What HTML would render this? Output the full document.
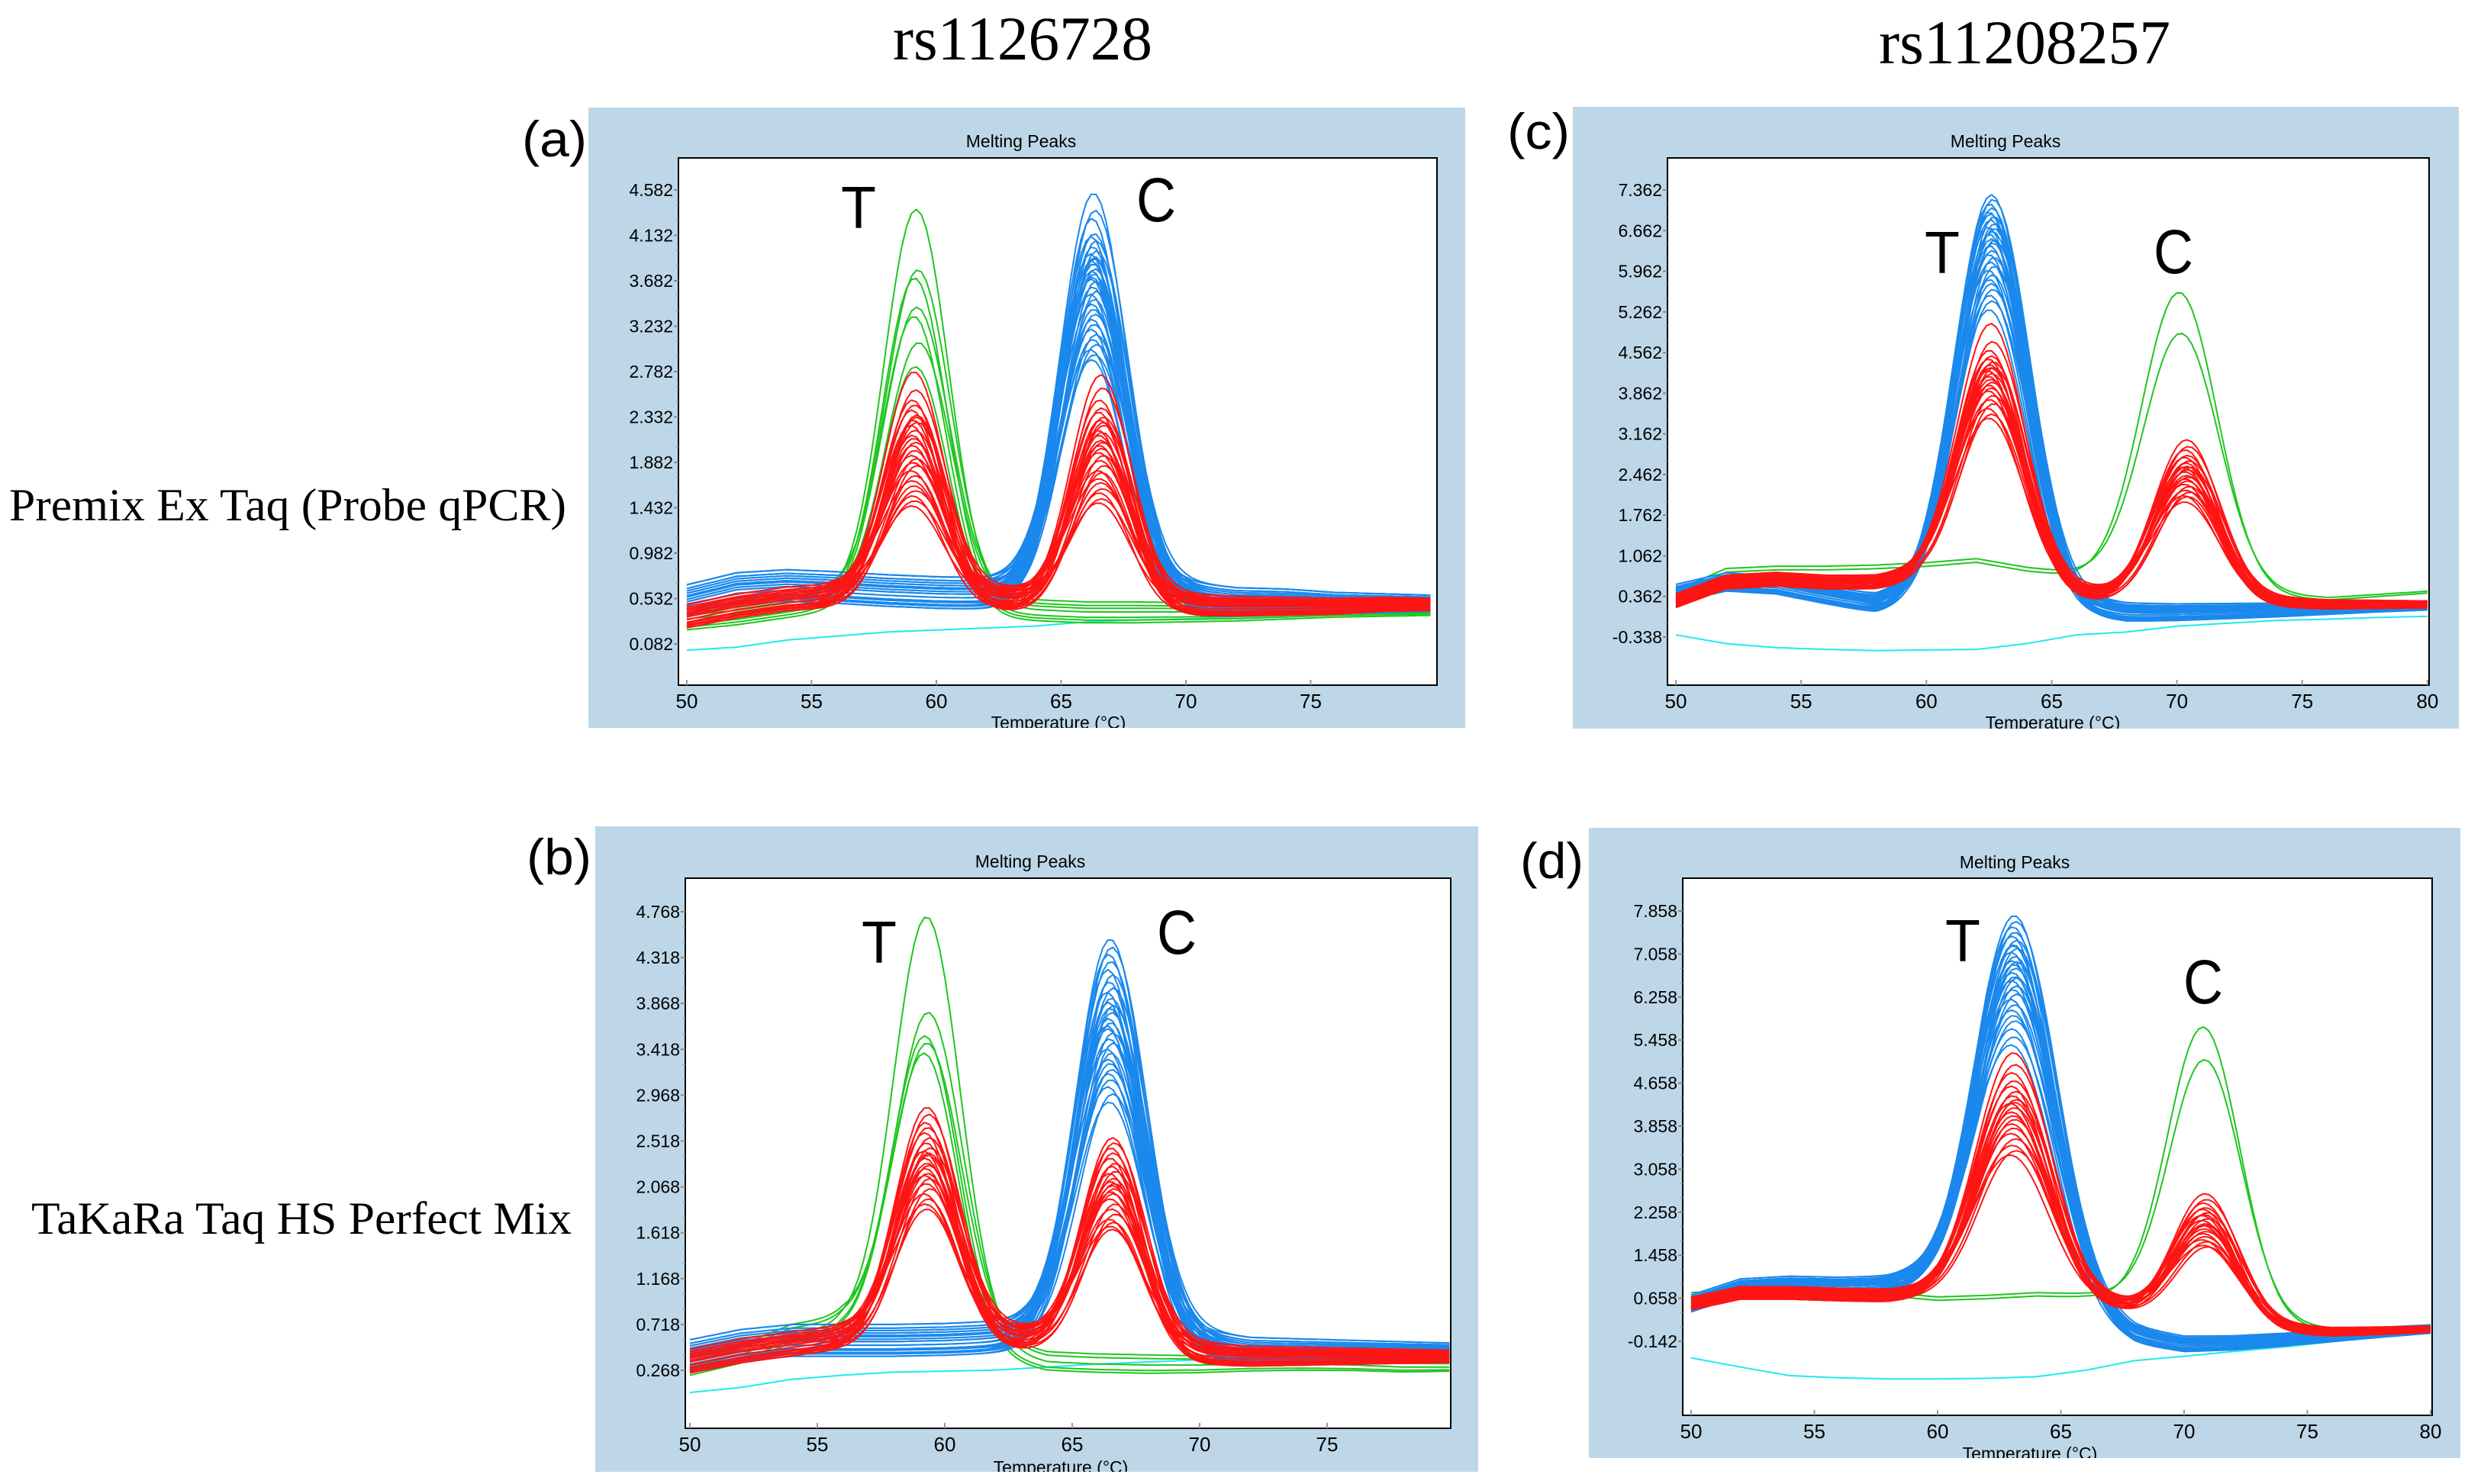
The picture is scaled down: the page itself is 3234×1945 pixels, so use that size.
<!DOCTYPE html>
<html><head><meta charset="utf-8"><style>
html,body{margin:0;padding:0;background:#fff;}
svg{display:block;}
</style></head><body>
<svg id="fig" xmlns="http://www.w3.org/2000/svg" width="3234" height="1945" viewBox="0 0 3234 1945">
<rect width="3234" height="1945" fill="#fff"/>
<text x="1340" y="78" font-family="Liberation Serif, serif" font-size="82" text-anchor="middle" textLength="340" lengthAdjust="spacingAndGlyphs">rs1126728</text>
<text x="2653" y="83" font-family="Liberation Serif, serif" font-size="82" text-anchor="middle" textLength="382" lengthAdjust="spacingAndGlyphs">rs11208257</text>
<text x="12" y="682" font-family="Liberation Serif, serif" font-size="60" textLength="730" lengthAdjust="spacingAndGlyphs">Premix Ex Taq (Probe qPCR)</text>
<text x="41" y="1617" font-family="Liberation Serif, serif" font-size="60" textLength="708" lengthAdjust="spacingAndGlyphs">TaKaRa Taq HS Perfect Mix</text>
<g id="panels"></g>
</svg>
<script>
// common baseline knot temperatures
const baseT = [50,52,54,56,58,60,62,64,66,68,70,72,74,76,78,80];
// small per-curve variation values
const jitY = [0,0.07,-0.06,0.11,-0.09,0.04,-0.12,0.14,-0.03,0.09,-0.1,0.05,0.02,-0.07];
const jitX = [0,0.12,-0.1,0.05,-0.15,0.18,-0.05,0.22,-0.2,0.08,-0.12];

// ---- panel (a)
const aTicksY = ["4.582","4.132","3.682","3.232","2.782","2.332","1.882","1.432","0.982","0.532","0.082"];
const aTicksX = [50,55,60,65,70,75];
const aGreenPeaks = [4.39,3.79,3.71,3.42,3.33,3.07,2.83];
const aGreenBase = [0.33,0.38,0.45,0.52,0.55,0.5,0.45,0.42,0.4,0.4,0.4,0.4,0.41,0.42,0.42,0.42];
const aRedPeaksT = [2.78,2.6,2.5,2.45,2.4,2.35,2.3,2.28,2.25,2.2,2.15,2.12,2.08,2.05,2.0,1.95,1.92,1.88,1.85,1.8,1.75,1.7,1.65,1.6,1.55,1.5,1.45,2.33];
const aRedPeaksC = [2.75,2.62,2.5,2.42,2.38,2.33,2.3,2.25,2.2,2.18,2.15,2.1,2.08,2.05,2.02,1.98,1.95,1.9,1.85,1.8,1.78,1.72,1.68,1.62,1.58,1.52,1.48,2.28];
const aRedBase = [0.35,0.45,0.52,0.55,0.55,0.55,0.52,0.5,0.5,0.48,0.46,0.45,0.45,0.45,0.47,0.47];
const aBluePeaks = [4.55,4.38,4.3,4.15,4.12,4.08,4.02,3.98,3.95,3.9,3.88,3.85,3.8,3.78,3.75,3.7,3.68,3.62,3.58,3.55,3.5,3.45,3.4,3.35,3.3,3.25,3.2,3.15,3.1,3.05,3.0,2.95,2.9,3.85,3.92,3.72];
const aBlueBase = [0.5,0.62,0.65,0.63,0.6,0.58,0.57,0.58,0.58,0.56,0.54,0.5,0.5,0.48,0.48,0.48];
const aCyan = [0.02,0.05,0.12,0.16,0.2,0.22,0.24,0.26,0.3,0.32,0.33,0.35,0.36,0.37,0.38,0.4];

// ---- panel (b)
const bTicksY = ["4.768","4.318","3.868","3.418","2.968","2.518","2.068","1.618","1.168","0.718","0.268"];
const bTicksX = [50,55,60,65,70,75];
const bGreenPeaks = [4.72,3.78,3.55,3.48,3.38];
const bGreenBase = [0.3,0.42,0.62,0.7,0.65,0.55,0.45,0.35,0.33,0.32,0.32,0.33,0.33,0.32,0.3,0.3];
const bRedPeaksT = [2.85,2.78,2.7,2.65,2.6,2.55,2.5,2.45,2.42,2.38,2.35,2.3,2.28,2.25,2.2,2.18,2.15,2.1,2.05,2.0,1.95,1.9,1.85,2.4];
const bRedPeaksC = [2.55,2.5,2.45,2.4,2.35,2.3,2.27,2.22,2.2,2.15,2.12,2.08,2.05,2.02,2.0,1.95,1.9,1.85,1.8,1.75,1.72,1.68,1.65,2.1];
const bRedBase = [0.35,0.45,0.52,0.58,0.6,0.6,0.58,0.55,0.5,0.45,0.42,0.4,0.4,0.4,0.4,0.4];
const bBluePeaks = [4.5,4.42,4.35,4.28,4.2,4.15,4.08,4.02,3.98,3.92,3.88,3.82,3.78,3.72,3.68,3.62,3.58,3.52,3.48,3.42,3.38,3.32,3.28,3.22,3.18,3.12,3.05,2.98,2.9,3.85,3.65];
const bBlueBase = [0.4,0.5,0.55,0.55,0.55,0.56,0.58,0.6,0.6,0.55,0.5,0.45,0.45,0.45,0.45,0.45];
const bCyan = [0.05,0.1,0.18,0.22,0.25,0.26,0.27,0.3,0.33,0.35,0.37,0.38,0.4,0.4,0.4,0.4];

// ---- panel (c)
const cTicksY = ["7.362","6.662","5.962","5.262","4.562","3.862","3.162","2.462","1.762","1.062","0.362","-0.338"];
const cTicksX = [50,55,60,65,70,75,80];
const cBluePeaks = [7.28,7.2,7.12,7.05,6.98,6.9,6.85,6.78,6.72,6.65,6.6,6.52,6.45,6.4,6.32,6.25,6.2,6.12,6.05,5.98,5.9,5.82,5.75,5.65,5.55,5.45,5.3,6.7,6.95,6.5];
const cBlueBase = [0.4,0.6,0.55,0.38,0.22,0.3,0.35,0.3,0.15,0.08,0.08,0.1,0.12,0.15,0.18,0.2];
const cRedPeaksT = [5.06,4.75,4.6,4.5,4.45,4.4,4.35,4.3,4.25,4.2,4.15,4.1,4.05,4.0,3.95,3.9,3.82,3.75,3.68,3.6,3.5,3.43,4.3];
const cRedPeaksC = [3.06,2.95,2.88,2.8,2.75,2.7,2.65,2.6,2.58,2.55,2.5,2.45,2.42,2.38,2.35,2.3,2.25,2.2,2.15,2.1,2.07,2.0,2.6];
const cRedBase = [0.28,0.6,0.65,0.6,0.6,0.7,0.6,0.45,0.38,0.35,0.32,0.28,0.25,0.22,0.22,0.22];
const cGreenPeaks = [5.6,4.9];
const cGreenBase = [0.4,0.78,0.82,0.82,0.84,0.88,0.95,0.8,0.7,0.6,0.5,0.42,0.35,0.3,0.36,0.42];
const cCyan = [-0.3,-0.45,-0.52,-0.55,-0.57,-0.56,-0.55,-0.45,-0.3,-0.25,-0.15,-0.1,-0.05,-0.03,0.0,0.02];

// ---- panel (d)
const dTicksY = ["7.858","7.058","6.258","5.458","4.658","3.858","3.058","2.258","1.458","0.658","-0.142"];
const dTicksX = [50,55,60,65,70,75,80];
const dBluePeaks = [7.76,7.65,7.55,7.45,7.38,7.3,7.22,7.15,7.08,7.0,6.92,6.85,6.78,6.7,6.62,6.55,6.45,6.38,6.3,6.2,6.1,6.0,5.9,5.8,5.65,5.5,5.35,6.9,7.2,6.6];
const dBlueBase = [0.55,0.85,0.9,0.88,0.9,1.0,1.1,0.6,0.3,-0.05,-0.2,-0.18,-0.12,-0.05,0.02,0.08];
const dRedPeaksT = [5.22,5.0,4.85,4.7,4.6,4.5,4.42,4.35,4.28,4.2,4.12,4.05,3.98,3.9,3.82,3.72,3.62,3.5,3.4,3.32,4.3];
const dRedPeaksC = [2.6,2.5,2.42,2.35,2.3,2.25,2.2,2.15,2.1,2.05,2.0,1.95,1.9,1.85,1.8,1.75,1.7,1.65,1.6,2.2,2.0];
const dRedBase = [0.55,0.75,0.75,0.72,0.7,0.75,0.8,0.7,0.55,0.45,0.35,0.2,0.08,0.03,0.05,0.08];
const dGreenPeaks = [5.7,5.1];
const dGreenBase = [0.7,0.75,0.75,0.72,0.7,0.62,0.65,0.7,0.68,0.6,0.5,0.3,0.12,0.05,0.06,0.08];
const dCyan = [-0.45,-0.62,-0.78,-0.82,-0.84,-0.84,-0.83,-0.8,-0.68,-0.5,-0.42,-0.33,-0.25,-0.15,-0.05,0.04];

const COL = {green:"#1fc61f", red:"#ff1414", blue:"#1a88ec", cyan:"#1fe8f0"};

// layout (pixel geometry, not data)
const layout = {
 a:{box:[771,141,1920,954], plot:[889,207,1883,898], x0:900, xdeg:32.7, yTop:249, yBot:844, tMin:50, tMax:79.8, label:"(a)", lab:[684,205,85],
    title:[1338,193], xl:[1387,955], T:[1125,299], C:[1515,290]},
 b:{box:[780,1083,1937,1929], plot:[898,1151,1901,1872], x0:904, xdeg:33.4, yTop:1195, yBot:1796, tMin:50, tMax:79.8, label:"(b)", lab:[690,1146,85],
    title:[1350,1137], xl:[1390,1931], T:[1152,1262], C:[1542,1250]},
 c:{box:[2061,140,3222,955], plot:[2185,207,3183,898], x0:2196, xdeg:32.83, yTop:249, yBot:835, tMin:50, tMax:80, label:"(c)", lab:[1975,195,82],
    title:[2628,193], xl:[2690,955], T:[2545,358], C:[2848,358]},
 d:{box:[2082,1085,3224,1911], plot:[2205,1151,3187,1855], x0:2216, xdeg:32.3, yTop:1194, yBot:1758, tMin:50, tMax:80, label:"(d)", lab:[1992,1151,83],
    title:[2640,1138], xl:[2660,1913], T:[2572,1260], C:[2887,1315]}
};

const panelData = {
 a:{ticksY:aTicksY, ticksX:aTicksX, groups:[
   {name:"cyan", color:"cyan", base:aCyan, peaks:[], single:true},
   {name:"green", color:"green", base:aGreenBase, peaks:[{h:aGreenPeaks, c:59.2, s:1.28}]},
   {name:"blue", color:"blue", base:aBlueBase, peaks:[{h:aBluePeaks, c:66.3, s:1.32}]},
   {name:"red", color:"red", base:aRedBase, peaks:[{h:aRedPeaksT, c:59.1, s:1.2},{h:aRedPeaksC, c:66.6, s:1.2}]}]},
 b:{ticksY:bTicksY, ticksX:bTicksX, groups:[
   {name:"cyan", color:"cyan", base:bCyan, peaks:[], single:true},
   {name:"green", color:"green", base:bGreenBase, peaks:[{h:bGreenPeaks, c:59.3, s:1.3}]},
   {name:"blue", color:"blue", base:bBlueBase, peaks:[{h:bBluePeaks, c:66.5, s:1.35}]},
   {name:"red", color:"red", base:bRedBase, peaks:[{h:bRedPeaksT, c:59.3, s:1.22},{h:bRedPeaksC, c:66.6, s:1.22}]}]},
 c:{ticksY:cTicksY, ticksX:cTicksX, groups:[
   {name:"cyan", color:"cyan", base:cCyan, peaks:[], single:true},
   {name:"green", color:"green", base:cGreenBase, peaks:[{h:cGreenPeaks, c:70.1, s:1.5}]},
   {name:"blue", color:"blue", base:cBlueBase, peaks:[{h:cBluePeaks, c:62.6, s:1.45}]},
   {name:"red", color:"red", base:cRedBase, peaks:[{h:cRedPeaksT, c:62.6, s:1.35},{h:cRedPeaksC, c:70.4, s:1.3}]}]},
 d:{ticksY:dTicksY, ticksX:dTicksX, groups:[
   {name:"cyan", color:"cyan", base:dCyan, peaks:[], single:true},
   {name:"green", color:"green", base:dGreenBase, peaks:[{h:dGreenPeaks, c:70.8, s:1.45}]},
   {name:"blue", color:"blue", base:dBlueBase, peaks:[{h:dBluePeaks, c:63.2, s:1.6}]},
   {name:"red", color:"red", base:dRedBase, peaks:[{h:dRedPeaksT, c:63.1, s:1.5},{h:dRedPeaksC, c:70.9, s:1.3}]}]}
};

const NS = "http://www.w3.org/2000/svg";
function mk(tag, attrs, parent){const e=document.createElementNS(NS,tag);for(const k in attrs)e.setAttribute(k,attrs[k]);if(parent)parent.appendChild(e);return e;}
function interp(arr,t){ if(t<=baseT[0])return arr[0]; for(let i=1;i<baseT.length;i++){ if(t<=baseT[i]){const f=(t-baseT[i-1])/(baseT[i]-baseT[i-1]);return arr[i-1]+f*(arr[i]-arr[i-1]);} } return arr[arr.length-1]; }

const root = document.getElementById("panels");
for (const key of ["a","b","c","d"]) {
  const L = layout[key], D = panelData[key];
  const v0 = parseFloat(D.ticksY[0]), v1 = parseFloat(D.ticksY[D.ticksY.length-1]);
  const yS = v => L.yTop + (v0 - v)/(v0 - v1)*(L.yBot - L.yTop);
  const xS = t => L.x0 + (t-50)*L.xdeg;
  const g = mk("g",{},root);
  
  
  const bx = mk("rect",{x:L.box[0],y:L.box[1],width:L.box[2]-L.box[0],height:L.box[3]-L.box[1],fill:"#bdd7e8"},g);
  
  
  const pl = mk("rect",{x:L.plot[0],y:L.plot[1],width:L.plot[2]-L.plot[0],height:L.plot[3]-L.plot[1],fill:"#fff",stroke:"#000","stroke-width":2},g);
  
  
  const lab = mk("text",{x:L.lab[0],y:L.lab[1],"font-family":"Liberation Sans, sans-serif","font-size":66,textLength:L.lab[2],lengthAdjust:"spacingAndGlyphs"},g);
  lab.textContent = L.label;
  
  
  const tt = mk("text",{x:L.title[0],y:L.title[1],"font-family":"Liberation Sans, sans-serif","font-size":23,"text-anchor":"middle"},g);
  tt.textContent = "Melting Peaks";
  
  
  D.ticksY.forEach((s,i)=>{
    const v=parseFloat(s), y=yS(v);
    const t=mk("text",{x:L.plot[0]-7,y:y+8,"font-family":"Liberation Sans, sans-serif","font-size":23,"text-anchor":"end"},g);
    t.textContent=s;
    
    
    const tk=mk("line",{x1:L.plot[0]-6,x2:L.plot[0],y1:y,y2:y,stroke:"#888","stroke-width":2},g);
    
    
    if(i<D.ticksY.length-1){ for(let m=1;m<3;m++){ const ym=y+(yS(parseFloat(D.ticksY[i+1]))-y)*m/3;
      const mt=mk("line",{x1:L.plot[0]-3,x2:L.plot[0],y1:ym,y2:ym,stroke:"#999","stroke-width":1.5},g);
      
       } }
  });
  D.ticksX.forEach(tv=>{
    const x=xS(tv);
    const t=mk("text",{x:x,y:L.plot[3]+30,"font-family":"Liberation Sans, sans-serif","font-size":26,"text-anchor":"middle"},g);
    t.textContent=String(tv);
    
    
    const tk=mk("line",{x1:x,x2:x,y1:L.plot[3]-7,y2:L.plot[3],stroke:"#999","stroke-width":2},g);
    
    
  });
  const cid="clipbox"+key;
  const cp=mk("clipPath",{id:cid},g); mk("rect",{x:L.box[0],y:L.box[1],width:L.box[2]-L.box[0],height:L.box[3]-L.box[1]},cp);
  const xl=mk("text",{x:L.xl[0],y:L.xl[1],"font-family":"Liberation Sans, sans-serif","font-size":23,"text-anchor":"middle","clip-path":"url(#"+cid+")"},g);
  xl.textContent="Temperature (°C)";
  
  
  const pid="clipplot"+key;
  const cp2=mk("clipPath",{id:pid},g); mk("rect",{x:L.plot[0]+1,y:L.plot[1]+1,width:L.plot[2]-L.plot[0]-2,height:L.plot[3]-L.plot[1]-2},cp2);
  const cg=mk("g",{"clip-path":"url(#"+pid+")",fill:"none","stroke-width":2,"stroke-linejoin":"round"},g);
  D.groups.forEach(G=>{
    const n = G.single ? 1 : G.peaks[0].h.length;
    for(let k=0;k<n;k++){
      const dy = G.single?0:jitY[k%jitY.length]*(G.color==="blue"?1.2:0.9);
      const dx = G.single?0:jitX[k%jitX.length];
      let d="";
      for(let t=L.tMin;t<=L.tMax+0.001;t+=0.2){
        let v = interp(G.base,t)+dy*(1-Math.min(1,Math.max(0,(t-68)/12))*0.5);
        G.peaks.forEach(P=>{
          const hk = P.h[Math.min(k,P.h.length-1)];
          const c = P.c+dx*0.6;
          const amp = hk - interp(G.base,c) - dy;
          v += amp*Math.exp(-((t-c)*(t-c))/(2*P.s*P.s));
        });
        d += (d?"L":"M")+xS(t).toFixed(1)+","+yS(v).toFixed(1);
      }
      const p=mk("path",{d:d,stroke:COL[G.color]},cg);
      
      
    }
  });
  const tl=mk("text",{x:L.T[0],y:L.T[1],"font-family":"Liberation Sans, sans-serif","font-size":78,"text-anchor":"middle",textLength:46,lengthAdjust:"spacingAndGlyphs"},g);
  tl.textContent="T";
  
  
  const cl=mk("text",{x:L.C[0],y:L.C[1],"font-family":"Liberation Sans, sans-serif","font-size":82,"text-anchor":"middle",textLength:52,lengthAdjust:"spacingAndGlyphs"},g);
  cl.textContent="C";
  
  
}
</script>
</body></html>
